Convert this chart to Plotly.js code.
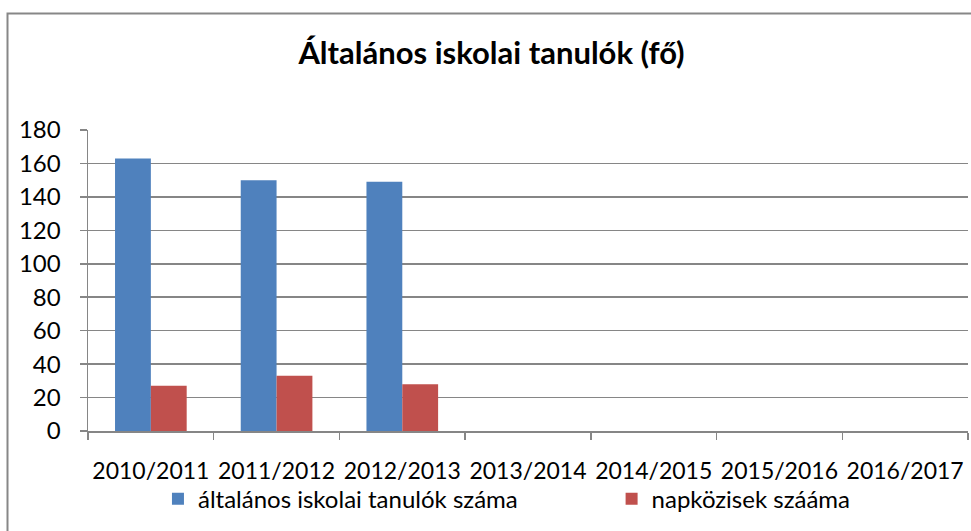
<!DOCTYPE html>
<html>
<head>
<meta charset="utf-8">
<script src="https://cdn.plot.ly/plotly-3.0.1.min.js"></script>
<style>html,body{margin:0;padding:0;background:#fff;}#chart{width:971px;height:531px;}</style>
</head>
<body>
<div id="chart"></div>
<script>
const categories = ["2010/2011", "2011/2012", "2012/2013", "2013/2014", "2014/2015", "2015/2016", "2016/2017"];
const students = [163, 150, 149, null, null, null, null];
const dayCare = [27, 33, 28, null, null, null, null];
const yTicks = [0, 20, 40, 60, 80, 100, 120, 140, 160, 180];
const seriesNames = ["általános iskolai tanulók száma", "napközisek szááma"];
const chartTitle = "Általános iskolai tanulók (fő)";

const FONT = "Lato, 'Open Sans', sans-serif";
const GRID = "#868686";

const traces = [
  {type: "bar", x: categories, y: students, name: seriesNames[0],
   marker: {color: "#4F81BD"}, legend: "legend", hoverinfo: "skip"},
  {type: "bar", x: categories, y: dayCare, name: seriesNames[1],
   marker: {color: "#C0504D"}, legend: "legend2", hoverinfo: "skip"}
];

const legendCommon = {
  orientation: "h", yanchor: "middle", xanchor: "left",
  font: {family: FONT, size: 24, color: "#000"},
  bgcolor: "rgba(0,0,0,0)", borderwidth: 0, itemwidth: 30
};

const layout = {
  width: 971, height: 531,
  margin: {l: 88, r: 3, t: 130, b: 100, pad: 0},
  paper_bgcolor: "#fff", plot_bgcolor: "#fff",
  font: {family: FONT, color: "#000"},
  title: {text: "<b>" + chartTitle + "</b>", font: {family: FONT, size: 31, color: "#000"},
          x: 491.5 / 971, xref: "container", xanchor: "center", y: 0.9, yanchor: "middle"},
  barmode: "group", bargap: 0.43, bargroupgap: 0,
  xaxis: {
    type: "category", categoryarray: categories, range: [-0.5, 6.5],
    showgrid: false, showline: true, linecolor: GRID, linewidth: 1.5,
    ticks: "outside", tickson: "boundaries", ticklen: 7, tickcolor: GRID, tickwidth: 1.5,
    tickangle: 0,
    tickfont: {family: FONT, size: 23, color: "#000"}, ticklabelstandoff: 19,
    fixedrange: true
  },
  yaxis: {
    range: [0, 180], tickvals: yTicks, ticktext: yTicks.map(String),
    showgrid: true, gridcolor: GRID, gridwidth: 1.5, zeroline: false,
    showline: true, linecolor: GRID, linewidth: 1.5,
    ticks: "outside", ticklen: 7, tickcolor: GRID, tickwidth: 1.5,
    tickfont: {family: FONT, size: 24, color: "#000"}, ticklabelstandoff: 14,
    fixedrange: true
  },
  legend: Object.assign({x: 0.0795, y: -0.226}, legendCommon),
  legend2: Object.assign({x: 0.595, y: -0.226}, legendCommon),
  showlegend: true,
  shapes: [
    {type: "rect", xref: "paper", yref: "paper",
     x0: (7.5 - 88) / 880, x1: 1.02, y0: -0.4, y1: (431 - 13.5) / 301,
     line: {color: "#878787", width: 2}, fillcolor: "rgba(0,0,0,0)", layer: "below"}
  ]
};

Plotly.newPlot("chart", traces, layout, {displayModeBar: false, staticPlot: true});
</script>
</body>
</html>
